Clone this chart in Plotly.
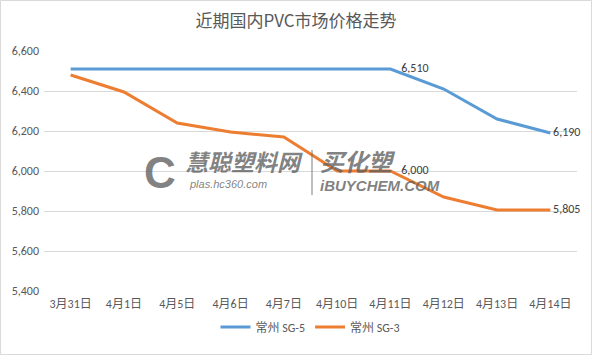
import plotly.graph_objects as go

categories = ["3月31日", "4月1日", "4月5日", "4月6日", "4月7日", "4月10日", "4月11日", "4月12日", "4月13日", "4月14日"]
sg5 = [6510, 6510, 6510, 6510, 6510, 6510, 6510, 6410, 6260, 6190]
sg3 = [6480, 6395, 6240, 6195, 6170, 6000, 6000, 5870, 5805, 5805]
sg5_labels = ["", "", "", "", "", "", "\u00a0\u00a0\u00a0\u00a06,510", "", "", "\u00a06,190"]
sg3_labels = ["", "", "", "", "", "", "\u00a0\u00a0\u00a0\u00a06,000", "", "", "\u00a05,805"]

W, H = 592, 356
L, R, T, B = 44, 15, 51, 65
PW, PH = W - L - R, H - T - B

def px(x):
    return (x - L) / PW

def py(y):
    return (H - B - y) / PH

FONT = "Calibri, Carlito, 'Noto Sans CJK SC', sans-serif"

fig = go.Figure()
fig.add_trace(go.Scatter(
    x=categories, y=sg5, name="常州 SG-5", mode="lines+text",
    line=dict(color="#5B9BD5", width=3),
    text=sg5_labels, textposition="middle right",
    textfont=dict(size=12, color="#404040", family=FONT),
    cliponaxis=False, hoverinfo="skip",
))
fig.add_trace(go.Scatter(
    x=categories, y=sg3, name="常州 SG-3", mode="lines+text",
    line=dict(color="#ED7D31", width=3),
    text=sg3_labels, textposition="middle right",
    textfont=dict(size=12, color="#404040", family=FONT),
    cliponaxis=False, hoverinfo="skip",
))

# watermark (text approximation)
wm = "rgba(95,95,95,0.8)"
annotations = [
    dict(text="<b><i>慧聪塑料网</i></b>", x=px(183), y=py(161), xref="paper", yref="paper",
         xanchor="left", yanchor="middle",
         font=dict(size=23, color=wm, family="Noto Sans CJK SC"), showarrow=False),
    dict(text="<i>plas.hc360.com</i>", x=px(187), y=py(184), xref="paper", yref="paper",
         xanchor="left", yanchor="middle",
         font=dict(size=11, color=wm, family="Liberation Sans"), showarrow=False),
    dict(text="<b><i>买化塑</i></b>", x=px(318), y=py(160), xref="paper", yref="paper",
         xanchor="left", yanchor="middle",
         font=dict(size=24, color=wm, family="Noto Sans CJK SC"), showarrow=False),
    dict(text="<b><i>iBUYCHEM.COM</i></b>", x=px(318), y=py(185), xref="paper", yref="paper",
         xanchor="left", yanchor="middle",
         font=dict(size=15, color=wm, family="Liberation Sans"), showarrow=False),
    dict(text="<b>C</b>", x=px(160), y=py(172), xref="paper", yref="paper",
         xanchor="center", yanchor="middle",
         font=dict(size=44, color=wm, family="Liberation Sans"), showarrow=False),
]

shapes = [
    dict(type="rect", xref="paper", yref="paper",
         x0=px(0.5), x1=px(591.5), y0=py(354.5), y1=py(0.5),
         line=dict(color="#D9D9D9", width=1), fillcolor="rgba(0,0,0,0)", layer="below"),
    dict(type="line", xref="paper", yref="paper",
         x0=px(312), x1=px(312), y0=py(150), y1=py(195),
         line=dict(color=wm, width=1)),
]

fig.update_layout(
    width=W, height=H,
    margin=dict(l=L, r=R, t=T, b=B),
    paper_bgcolor="white", plot_bgcolor="white",
    hovermode=False,
    title=dict(text="近期国内PVC市场价格走势", x=0.5, xanchor="center", y=1 - 21 / H, yanchor="middle",
               font=dict(size=17, color="#595959", family="Noto Sans CJK SC, sans-serif")),
    xaxis=dict(type="category", range=[-0.5, 9.5], showgrid=False, showline=False, zeroline=False,
               ticks="", ticklabelstandoff=4, tickfont=dict(size=12, color="#595959", family=FONT)),
    yaxis=dict(range=[5400, 6600], dtick=200, tickformat=",", showgrid=True, gridcolor="#D9D9D9",
               gridwidth=1, zeroline=False, showline=False, ticks="", ticklabelstandoff=4,
               tickfont=dict(size=12, color="#595959", family=FONT)),
    legend=dict(orientation="h", x=0.5, xanchor="center", y=py(327), yanchor="middle",
                font=dict(size=12, color="#595959", family=FONT),
                tracegroupgap=0, bgcolor="rgba(0,0,0,0)"),
    showlegend=True,
    annotations=annotations,
    shapes=shapes,
)

fig.write_html("out.html", config={"displayModeBar": False},
               post_script="document.body.style.margin='0';")
